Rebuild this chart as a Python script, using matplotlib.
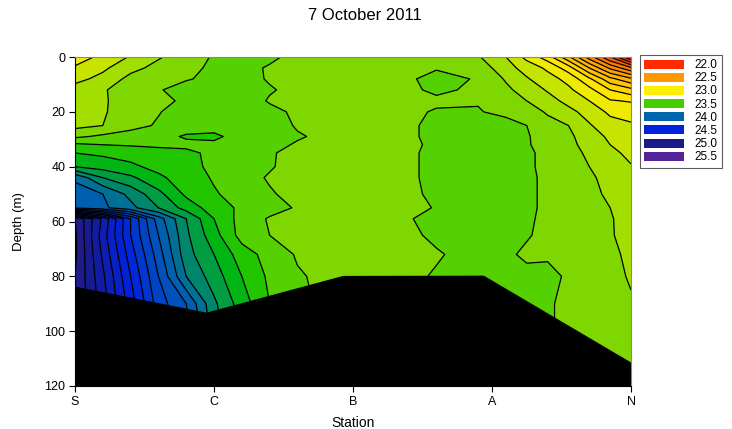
import numpy as np
import matplotlib
matplotlib.use('Agg')
import matplotlib.pyplot as plt
from matplotlib.colors import LinearSegmentedColormap, Normalize
from matplotlib.patches import Patch

plt.rcParams['font.family'] = ['Liberation Sans', 'DejaVu Sans']

# ---- data (station position 0=S ... 4=N, depth in m) ----
station_labels = ['S', 'C', 'B', 'A', 'N']
station_x = [0, 0.2, 0.4, 0.6, 0.8, 1.0, 1.2, 1.4, 1.6, 2.0,
             2.35, 2.6, 2.9, 3.1, 3.25, 3.4, 3.55, 3.7, 3.85, 4.0]
depth_m = [0, 4, 8, 12, 16, 20, 25, 29, 32, 35, 40, 44, 50, 55, 59, 65, 72, 80, 90, 100, 120]
temp = [
    [23.06, 23.12, 23.21, 23.29, 23.35, 23.41, 23.43, 23.42, 23.37, 23.36, 23.37, 23.37, 23.31, 23.20, 23.07, 22.95, 22.72, 22.45, 22.20, 21.90],
    [23.11, 23.18, 23.27, 23.33, 23.37, 23.42, 23.43, 23.39, 23.36, 23.35, 23.37, 23.39, 23.36, 23.24, 23.16, 23.08, 22.95, 22.70, 22.48, 22.32],
    [23.17, 23.23, 23.33, 23.37, 23.39, 23.43, 23.44, 23.39, 23.36, 23.35, 23.37, 23.44, 23.39, 23.29, 23.21, 23.14, 23.07, 22.92, 22.73, 22.62],
    [23.24, 23.29, 23.35, 23.39, 23.45, 23.46, 23.45, 23.41, 23.37, 23.36, 23.37, 23.42, 23.38, 23.32, 23.26, 23.19, 23.12, 23.03, 22.90, 22.83],
    [23.25, 23.29, 23.34, 23.37, 23.42, 23.46, 23.46, 23.39, 23.36, 23.35, 23.36, 23.38, 23.395, 23.35, 23.30, 23.24, 23.17, 23.10, 23.01, 22.99],
    [23.26, 23.29, 23.35, 23.395, 23.44, 23.47, 23.47, 23.43, 23.38, 23.35, 23.37, 23.41, 23.405, 23.38, 23.34, 23.29, 23.23, 23.16, 23.08, 23.07],
    [23.27, 23.30, 23.37, 23.41, 23.46, 23.48, 23.48, 23.45, 23.39, 23.35, 23.37, 23.43, 23.45, 23.43, 23.40, 23.33, 23.30, 23.21, 23.14, 23.11],
    [23.38, 23.42, 23.44, 23.47, 23.51, 23.51, 23.48, 23.46, 23.41, 23.35, 23.37, 23.43, 23.46, 23.45, 23.41, 23.35, 23.32, 23.25, 23.18, 23.15],
    [23.52, 23.50, 23.49, 23.48, 23.48, 23.49, 23.47, 23.43, 23.39, 23.36, 23.37, 23.42, 23.46, 23.45, 23.41, 23.36, 23.33, 23.26, 23.20, 23.16],
    [23.60, 23.58, 23.56, 23.54, 23.52, 23.48, 23.46, 23.41, 23.37, 23.35, 23.37, 23.43, 23.46, 23.45, 23.42, 23.37, 23.34, 23.28, 23.22, 23.18],
    [23.70, 23.66, 23.62, 23.57, 23.53, 23.48, 23.45, 23.41, 23.36, 23.35, 23.37, 23.43, 23.46, 23.45, 23.42, 23.37, 23.35, 23.30, 23.24, 23.205],
    [23.98, 23.80, 23.72, 23.62, 23.55, 23.49, 23.44, 23.39, 23.36, 23.36, 23.37, 23.43, 23.46, 23.45, 23.43, 23.37, 23.36, 23.32, 23.26, 23.22],
    [24.05, 24.00, 23.87, 23.73, 23.58, 23.51, 23.46, 23.41, 23.37, 23.35, 23.37, 23.42, 23.46, 23.45, 23.43, 23.37, 23.36, 23.33, 23.28, 23.23],
    [24.08, 24.02, 23.93, 23.80, 23.66, 23.55, 23.48, 23.44, 23.39, 23.35, 23.37, 23.405, 23.45, 23.45, 23.43, 23.37, 23.36, 23.34, 23.30, 23.24],
    [25.10, 24.78, 24.40, 24.05, 23.80, 23.60, 23.46, 23.39, 23.37, 23.36, 23.37, 23.46, 23.45, 23.44, 23.42, 23.37, 23.36, 23.34, 23.31, 23.25],
    [25.12, 24.75, 24.40, 24.10, 23.82, 23.64, 23.46, 23.40, 23.37, 23.35, 23.37, 23.42, 23.44, 23.43, 23.41, 23.37, 23.36, 23.34, 23.31, 23.26],
    [25.12, 24.78, 24.45, 24.15, 23.84, 23.70, 23.55, 23.46, 23.39, 23.35, 23.37, 23.39, 23.44, 23.42, 23.38, 23.39, 23.37, 23.35, 23.32, 23.28],
    [25.10, 24.82, 24.50, 24.20, 23.90, 23.75, 23.60, 23.48, 23.41, 23.35, 23.37, 23.41, 23.45, 23.44, 23.43, 23.42, 23.39, 23.36, 23.33, 23.29],
    [25.10, 24.85, 24.55, 24.25, 24.10, 23.82, 23.65, 23.50, 23.42, 23.35, 23.37, 23.40, 23.45, 23.44, 23.43, 23.41, 23.38, 23.36, 23.33, 23.31],
    [25.10, 24.85, 24.60, 24.30, 24.15, 23.85, 23.68, 23.52, 23.43, 23.35, 23.37, 23.40, 23.45, 23.44, 23.43, 23.41, 23.38, 23.36, 23.34, 23.32],
    [25.10, 24.85, 24.60, 24.30, 24.15, 23.85, 23.68, 23.52, 23.43, 23.35, 23.37, 23.40, 23.45, 23.44, 23.43, 23.41, 23.38, 23.36, 23.34, 23.32],
]
# sea floor outline
bottom_x = [0, 0.947, 1.93, 2.94, 4.0, 4.0, 0]
bottom_depth = [84, 93.5, 80.1, 80.0, 111.7, 120, 120]
legend_values = [22.0, 22.5, 23.0, 23.5, 24.0, 24.5, 25.0, 25.5]

# colour scale anchored like the original key
anchors = [(22.0, '#ff2a00'), (22.5, '#ff9900'), (23.0, '#ffee00'), (23.5, '#44cd00'),
           (23.6, '#00c000'), (24.0, '#0066aa'), (24.5, '#0022dd'), (25.0, '#1a1a88'),
           (25.5, '#552299')]
vmin, vmax = 22.0, 25.5
cmap = LinearSegmentedColormap.from_list(
    'sect', [((v - vmin) / (vmax - vmin), c) for v, c in anchors])
norm = Normalize(vmin, vmax)
levels = np.round(np.arange(21.8, 25.55, 0.1), 2)

X, D = np.meshgrid(station_x, depth_m)
T = np.array(temp)

fig = plt.figure(figsize=(7.32, 4.29), dpi=100)
ax = fig.add_axes([75 / 732, 1 - 386 / 429, (631 - 75) / 732, (386 - 57) / 429])

ax.contourf(X, D, T, levels=levels, cmap=cmap, norm=norm)
ax.contour(X, D, T, levels=levels, colors='black', linewidths=0.9)
ax.fill(bottom_x, bottom_depth, color='black', zorder=3)

ax.set_xlim(0, 4)
ax.set_ylim(120, 0)
ax.set_xticks(range(5))
ax.set_xticklabels(station_labels)
ax.set_yticks(range(0, 121, 20))
ax.tick_params(direction='out', length=4, width=0.8, labelsize=9, pad=3)
for side in ('top', 'right'):
    ax.spines[side].set_color('#888888')
    ax.spines[side].set_linewidth(0.8)
for side in ('left', 'bottom'):
    ax.spines[side].set_linewidth(0.8)

ax.set_xlabel('Station', fontsize=10, labelpad=6)
ax.set_ylabel('Depth (m)', fontsize=9.5, labelpad=14)
fig.text(365 / 732, 1 - 16 / 429, '7 October 2011', ha='center', va='center', fontsize=12)

handles = [Patch(facecolor=cmap(norm(v)), edgecolor='none', label='%.1f' % v) for v in legend_values]
leg = fig.legend(handles=handles, loc='upper left', bbox_to_anchor=(640 / 732, 1 - 55 / 429),
                 frameon=True, fancybox=False, fontsize=8.5, handlelength=3.4, handleheight=0.8,
                 labelspacing=0.1, borderpad=0.35, handletextpad=0.9, borderaxespad=0)
leg.get_frame().set_edgecolor('#333333')
leg.get_frame().set_linewidth(0.8)

fig.savefig('out.png', dpi=100)
